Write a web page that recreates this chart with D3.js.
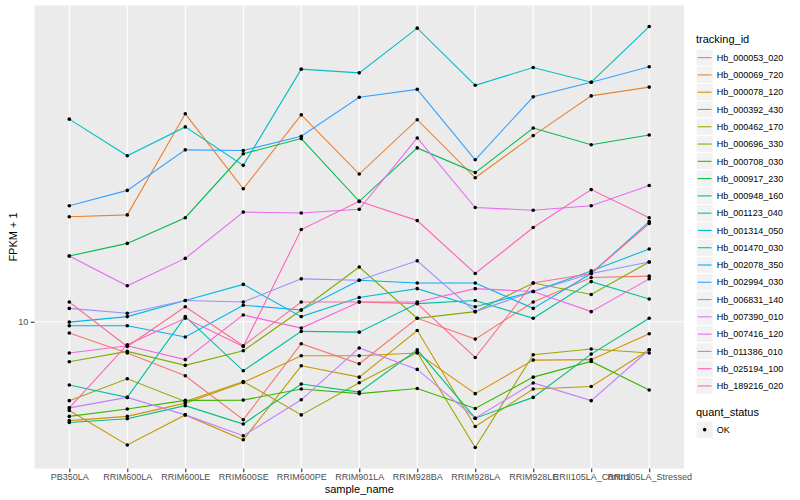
<!DOCTYPE html>
<html>
<head>
<meta charset="utf-8">
<script src="https://cdn.jsdelivr.net/npm/d3@7"></script>
<style>
body { margin: 0; background: #fff; }
text { font-family: "Liberation Sans", Arial, sans-serif; }
</style>
</head>
<body>
<script>
// window size
var width = 800,
    height = 500;

// samples on the x axis
var samples = ["PB350LA", "RRIM600LA", "RRIM600LE", "RRIM600SE", "RRIM600PE", "RRIM901LA",
  "RRIM928BA", "RRIM928LA", "RRIM928LE", "RRII105LA_Control", "RRII105LA_Stressed"];

var trackingIds = ["Hb_000053_020", "Hb_000069_720", "Hb_000078_120", "Hb_000392_430", "Hb_000462_170",
  "Hb_000696_330", "Hb_000708_030", "Hb_000917_230", "Hb_000948_160", "Hb_001123_040",
  "Hb_001314_050", "Hb_001470_030", "Hb_002078_350", "Hb_002994_030", "Hb_006831_140",
  "Hb_007390_010", "Hb_007416_120", "Hb_011386_010", "Hb_025194_100", "Hb_189216_020"];

var quantStatus = ["OK"];

// FPKM + 1, one array per gene, in sample order
var hb_000053_020 = [9.37, 8.35, 7.33, 5.69, 8.81, 7.85, 10.2, 9.05, 11.2, 12.9, 13.0];
var hb_000069_720 = [18.3, 18.5, 33.1, 21.5, 32.9, 23.4, 32.0, 22.9, 29.2, 36.7, 38.6];
var hb_000078_120 = [5.66, 5.80, 6.26, 7.05, 8.22, 8.22, 8.35, 6.61, 8.02, 8.04, 9.33];
var hb_000392_430 = [6.00, 4.92, 5.85, 5.07, 7.76, 7.27, 9.51, 5.47, 6.79, 6.89, 8.51];
var hb_000462_170 = [6.35, 7.20, 6.32, 7.09, 5.85, 7.04, 8.38, 4.85, 8.27, 8.55, 8.35];
var hb_000696_330 = [7.94, 8.43, 7.78, 8.46, 10.7, 13.7, 10.2, 10.6, 12.5, 11.7, 14.1];
var hb_000708_030 = [5.80, 6.05, 6.36, 6.37, 6.79, 6.61, 6.81, 6.07, 7.27, 7.96, 6.75];
var hb_000917_230 = [14.6, 15.7, 18.2, 26.3, 28.7, 20.0, 27.2, 23.6, 30.5, 27.7, 29.3];
var hb_000948_160 = [5.60, 5.72, 6.17, 5.55, 6.99, 6.67, 8.51, 5.74, 6.47, 8.30, 10.2];
var hb_001123_040 = [6.95, 6.47, 10.3, 7.54, 9.46, 9.42, 11.1, 11.3, 10.2, 12.6, 11.4];
var hb_001314_050 = [32.1, 26.0, 30.7, 24.6, 42.8, 41.9, 54.2, 39.0, 43.2, 39.7, 54.7];
var hb_001470_030 = [9.98, 10.3, 11.3, 12.4, 10.3, 11.5, 12.1, 10.9, 11.9, 13.4, 15.2];
var hb_002078_350 = [9.77, 9.77, 9.16, 11.0, 10.7, 12.7, 12.5, 12.5, 10.8, 13.2, 17.8];
var hb_002994_030 = [19.5, 21.3, 26.9, 26.8, 29.1, 36.4, 38.1, 25.4, 36.5, 39.7, 43.4];
var hb_006831_140 = [10.8, 10.5, 11.3, 11.2, 12.8, 12.7, 14.2, 10.6, 11.9, 13.2, 14.1];
var hb_007390_010 = [6.09, 6.47, 5.85, 5.19, 6.38, 8.60, 7.60, 5.74, 7.03, 6.35, 8.51];
var hb_007416_120 = [14.6, 12.3, 14.4, 18.8, 18.7, 19.1, 28.8, 19.3, 19.0, 19.5, 21.9];
var hb_011386_010 = [8.35, 8.71, 8.04, 10.4, 9.64, 11.2, 11.2, 12.1, 11.9, 10.6, 12.8];
var hb_025194_100 = [6.09, 8.76, 10.2, 8.67, 17.0, 20.0, 17.9, 13.2, 17.2, 21.4, 18.2];
var hb_189216_020 = [11.2, 8.67, 10.9, 8.71, 11.2, 11.2, 11.1, 8.14, 12.5, 13.2, 17.6];

var series = [hb_000053_020, hb_000069_720, hb_000078_120, hb_000392_430, hb_000462_170,
  hb_000696_330, hb_000708_030, hb_000917_230, hb_000948_160, hb_001123_040,
  hb_001314_050, hb_001470_030, hb_002078_350, hb_002994_030, hb_006831_140,
  hb_007390_010, hb_007416_120, hb_011386_010, hb_025194_100, hb_189216_020];

// ggplot default hue palette for 20 levels
var palette = ["#F8766D", "#EA8331", "#D89000", "#C09B00", "#A3A500", "#7CAE00", "#39B600",
  "#00BB4E", "#00BF7D", "#00C1A3", "#00BFC4", "#00BAE0", "#00B0F6", "#35A2FF", "#9590FF",
  "#C77CFF", "#E76BF3", "#FA62DB", "#FF62BC", "#FF6C91"];

// panel box
var panel = {left: 34.5, right: 684, top: 5.5, bottom: 468.5};

var svg = d3.select("body")
    .append("svg")
    .attr("width", width)
    .attr("height", height);

var x = d3.scalePoint()
    .domain(samples)
    .range([panel.left, panel.right])
    .padding(0.6);

// log range with 5% expansion, like ggplot
var all = d3.merge(series);
var lmin = Math.log10(d3.min(all)),
    lmax = Math.log10(d3.max(all)),
    pad = (lmax - lmin) * 0.05;

var y = d3.scaleLog()
    .domain([Math.pow(10, lmin - pad), Math.pow(10, lmax + pad)])
    .range([panel.bottom, panel.top]);

var color = d3.scaleOrdinal().domain(trackingIds).range(palette);

// panel background + grid
svg.append("rect")
    .attr("x", panel.left)
    .attr("y", panel.top)
    .attr("width", panel.right - panel.left)
    .attr("height", panel.bottom - panel.top)
    .attr("fill", "#EBEBEB");

var grid = svg.append("g");
grid.selectAll("line.v")
    .data(samples)
    .enter()
    .append("line")
    .attr("x1", function(d){ return x(d); })
    .attr("x2", function(d){ return x(d); })
    .attr("y1", panel.top)
    .attr("y2", panel.bottom)
    .attr("stroke", "#fff")
    .attr("stroke-width", 1.1);

grid.selectAll("line.h")
    .data([10])
    .enter()
    .append("line")
    .attr("x1", panel.left)
    .attr("x2", panel.right)
    .attr("y1", function(d){ return y(d); })
    .attr("y2", function(d){ return y(d); })
    .attr("stroke", "#fff")
    .attr("stroke-width", 1.1);

// lines
var line = d3.line()
    .x(function(d, i){ return x(samples[i]); })
    .y(function(d){ return y(d); });

svg.append("g").selectAll("path")
    .data(series)
    .enter()
    .append("path")
    .attr("d", line)
    .attr("fill", "none")
    .attr("stroke", function(d, i){ return color(trackingIds[i]); })
    .attr("stroke-width", 1.1);

// points
var pts = [];
series.forEach(function(s){
    s.forEach(function(v, i){ pts.push({sample: samples[i], value: v}); });
});

svg.append("g").selectAll("circle")
    .data(pts)
    .enter()
    .append("circle")
    .attr("cx", function(d){ return x(d.sample); })
    .attr("cy", function(d){ return y(d.value); })
    .attr("r", 1.8)
    .attr("fill", "#000");

// axes
var xAxis = svg.append("g")
    .attr("transform", "translate(0," + panel.bottom + ")")
    .call(d3.axisBottom(x).tickSize(3.7).tickPadding(1.5));

var yAxis = svg.append("g")
    .attr("transform", "translate(" + panel.left + ",0)")
    .call(d3.axisLeft(y).tickValues([10]).tickFormat(d3.format("d")).tickSize(3.7).tickPadding(2.5));

[xAxis, yAxis].forEach(function(a){
    a.select(".domain").remove();
    a.selectAll(".tick line").attr("stroke", "#333333").attr("stroke-width", 1.1);
    a.selectAll(".tick text")
        .attr("fill", "#4D4D4D")
        .style("font-size", "9px")
        .style("font-family", "'Liberation Sans', Arial, sans-serif");
});

// axis titles
svg.append("text")
    .attr("x", (panel.left + panel.right) / 2)
    .attr("y", 493)
    .attr("text-anchor", "middle")
    .style("font-size", "11px")
    .text("sample_name");

svg.append("text")
    .attr("transform", "translate(17," + ((panel.top + panel.bottom) / 2) + ") rotate(-90)")
    .attr("text-anchor", "middle")
    .style("font-size", "11px")
    .text("FPKM + 1");

// legend: tracking_id
var legend = svg.append("g").attr("transform", "translate(696,0)");
var keySize = 17.28, firstKey = 49;

legend.append("text")
    .attr("x", 0)
    .attr("y", 43)
    .style("font-size", "11px")
    .text("tracking_id");

var item = legend.selectAll("g.item")
    .data(trackingIds)
    .enter()
    .append("g")
    .attr("transform", function(d, i){ return "translate(0," + (firstKey + i * keySize) + ")"; });

item.append("rect")
    .attr("width", keySize)
    .attr("height", keySize)
    .attr("fill", "#F2F2F2")
    .attr("stroke", "#fff")
    .attr("stroke-width", 1);

item.append("line")
    .attr("x1", 1.7)
    .attr("x2", keySize - 1.7)
    .attr("y1", keySize / 2)
    .attr("y2", keySize / 2)
    .attr("stroke", function(d){ return color(d); })
    .attr("stroke-width", 1.1);

item.append("text")
    .attr("x", keySize + 3.5)
    .attr("y", keySize / 2 + 3.2)
    .style("font-size", "9px")
    .text(function(d){ return d; });

// legend: quant_status
var legend2 = svg.append("g").attr("transform", "translate(696,0)");
legend2.append("text")
    .attr("x", 0)
    .attr("y", 416)
    .style("font-size", "11px")
    .text("quant_status");

var item2 = legend2.selectAll("g.item")
    .data(quantStatus)
    .enter()
    .append("g")
    .attr("transform", function(d, i){ return "translate(0," + (421 + i * keySize) + ")"; });

item2.append("rect")
    .attr("width", keySize)
    .attr("height", keySize)
    .attr("fill", "#F2F2F2")
    .attr("stroke", "#fff");

item2.append("circle")
    .attr("cx", keySize / 2)
    .attr("cy", keySize / 2)
    .attr("r", 1.8)
    .attr("fill", "#000");

item2.append("text")
    .attr("x", keySize + 3.5)
    .attr("y", keySize / 2 + 3.2)
    .style("font-size", "9px")
    .text(function(d){ return d; });
</script>
</body>
</html>
